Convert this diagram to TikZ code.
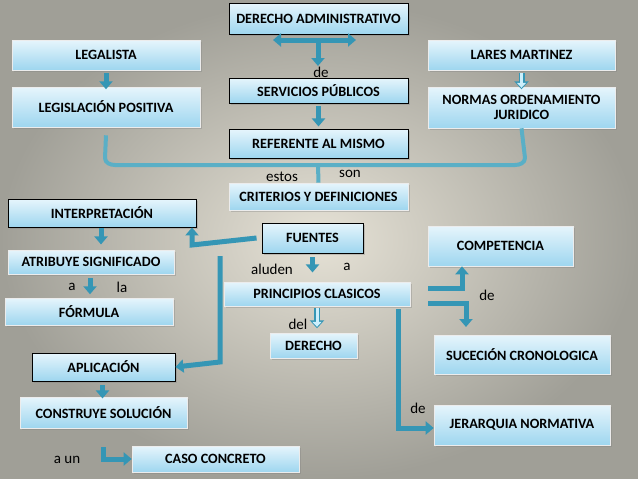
\documentclass[tikz,border=0pt]{standalone}
\usepackage{fontspec}
\setmainfont{Carlito}
\usetikzlibrary{arrows.meta,shadows}
\definecolor{ar}{HTML}{3596B5}
\definecolor{br}{HTML}{5AAFC6}
\definecolor{bxt}{HTML}{E6F5FC}
\definecolor{bxb}{HTML}{9ED6EF}
\definecolor{bgi}{HTML}{E6E2D6}
\definecolor{bgo}{HTML}{A09F97}
\tikzset{
 box/.style={shade,top color=bxt,bottom color=bxb,
   draw=white!85!gray,line width=0.6pt,align=center,font=\bfseries\fontsize{14.2}{15.5}\selectfont,
   inner sep=1pt,drop shadow={opacity=0.35,shadow xshift=1.5pt,shadow yshift=-1.5pt}},
 bbox/.style={box,draw=black,line width=0.9pt},
 lbl/.style={font=\fontsize{15}{17}\selectfont,inner sep=0pt},
 blk/.style={draw=ar,line width=5pt,-{Triangle[width=13pt,length=8pt]}},
 hol/.style={draw=ar,line width=6pt,-{Triangle[width=14pt,length=8pt]},
   postaction={draw=white!80!cyan,line width=3pt,-{Triangle[width=9pt,length=5pt]},shorten >=1.5pt}},
}
\newcommand{\bx}[7][box]{\node[#1,minimum width={(#5-#3)*1pt},minimum height={(#6-#4)*1pt}] (#2) at ({(#3+#5)/2*1pt},{-(#4+#6)/2*1pt}) {#7};}
\begin{document}
\begin{tikzpicture}[x=1pt,y=-1pt]
\shade[inner color=bgi,outer color=bgo] (0,0) rectangle (638,479);
\useasboundingbox (0,0) rectangle (638,479);
\bx[bbox]{da}{229}{3}{408}{34}{DERECHO ADMINISTRATIVO}
\bx{leg}{12}{40}{200}{70}{LEGALISTA}
\bx{lares}{428}{40}{615}{70}{LARES MARTINEZ}
\bx{legpos}{12}{87}{200}{127}{LEGISLACIÓN POSITIVA}
\bx[bbox]{serv}{229}{78}{408}{103}{SERVICIOS PÚBLICOS}
\bx{normas}{428}{87}{615}{128}{NORMAS ORDENAMIENTO\\JURIDICO}
\bx[bbox]{ref}{229}{129}{408}{158}{REFERENTE AL MISMO}
\bx{crit}{229}{183}{408}{210}{CRITERIOS Y DEFINICIONES}
\bx[bbox]{interp}{8}{199}{196}{227}{INTERPRETACIÓN}
\bx[bbox]{fuen}{262}{223}{363}{253}{FUENTES}
\bx{comp}{428}{226}{573}{266}{COMPETENCIA}
\bx{atri}{8}{250}{174}{274}{ATRIBUYE SIGNIFICADO}
\bx{prin}{224}{282}{410}{306}{PRINCIPIOS CLASICOS}
\bx{form}{5}{298}{173}{325}{FÓRMULA}
\bx{der}{270}{333}{357}{358}{DERECHO}
\bx{suc}{434}{335}{610}{374}{SUCECIÓN CRONOLOGICA}
\bx[bbox]{apl}{32}{353}{175}{381}{APLICACIÓN}
\bx{cons}{20}{397}{187}{428}{CONSTRUYE SOLUCIÓN}
\bx{jer}{434}{405}{610}{445}{JERARQUIA NORMATIVA}
\bx{caso}{132}{446}{299}{472}{CASO CONCRETO}
% top double arrow
\draw[draw=ar,line width=5pt,{Triangle[width=13pt,length=8pt]}-{Triangle[width=13pt,length=8pt]}] (273,40) -- (356,40);
\coordinate (c1) at (318,40);
\draw[blk] (c1) -- (318,66);
\node[lbl] at (321,72) {de};
\draw[blk] (leg.south) ++(0,3) -- ++(0,16);
\draw[hol] (lares.south) ++(0,3) -- ++(0,16);
\draw[blk] (serv.south) ++(0,3) -- ++(0,20);
% bracket
\draw[br,line width=4pt,line join=round] (legpos.south) ++(0,8) -- (105,158) to[out=-90,in=180] (115,165) -- (515,165) to[out=0,in=-90] (525,158) -- (normas.south) ++(0,7);
\draw[br,line width=4pt] (318,165) -- (crit.north);
\node[lbl] at (282,177) {estos};
\node[lbl] at (350,174) {son};
% left column
\draw[blk] (interp.south) ++(-1,1) -- ++(0,16);
\draw[blk] (atri.south) ++(-1,4) -- ++(0,16);
\node[lbl] at (72,287) {a}; \node[lbl] at (122,287) {la};
\draw[blk] (apl.south) ++(-1,4) -- ++(0,13);
\coordinate (au) at (103,447);
\draw[blk,line join=miter] (au) |- (caso.west);
\node[lbl] at (67,460) {a un};
% fuentes arrows
\draw[blk,line join=miter] (fuen.west) ++(-5,0) -- (192,245) -- (interp.south -| 192,0);
\draw[blk,line join=miter] (220,256) -- (220,362) -- (apl.east);
\draw[blk] (fuen.south) ++(0,4) -- ++(0,15);
\node[lbl] at (272,269) {aluden}; \node[lbl] at (347,267) {a};
\draw[hol] (prin.south) ++(0,2) -- ++(0,20);
\node[lbl] at (298,324) {del};
% right of principios
\draw[blk,line join=miter] (428,288) -- (462,288) -- (comp.south -| 462,0);
\draw[blk,line join=miter] (428,303) -- (466,303) -- (466,327);
\node[lbl] at (487,295) {de};
\draw[blk,line join=miter] (398,309) -- (398,428) -- (jer.west |- 0,428);
\node[lbl] at (418,408) {de};
\end{tikzpicture}
\end{document}
